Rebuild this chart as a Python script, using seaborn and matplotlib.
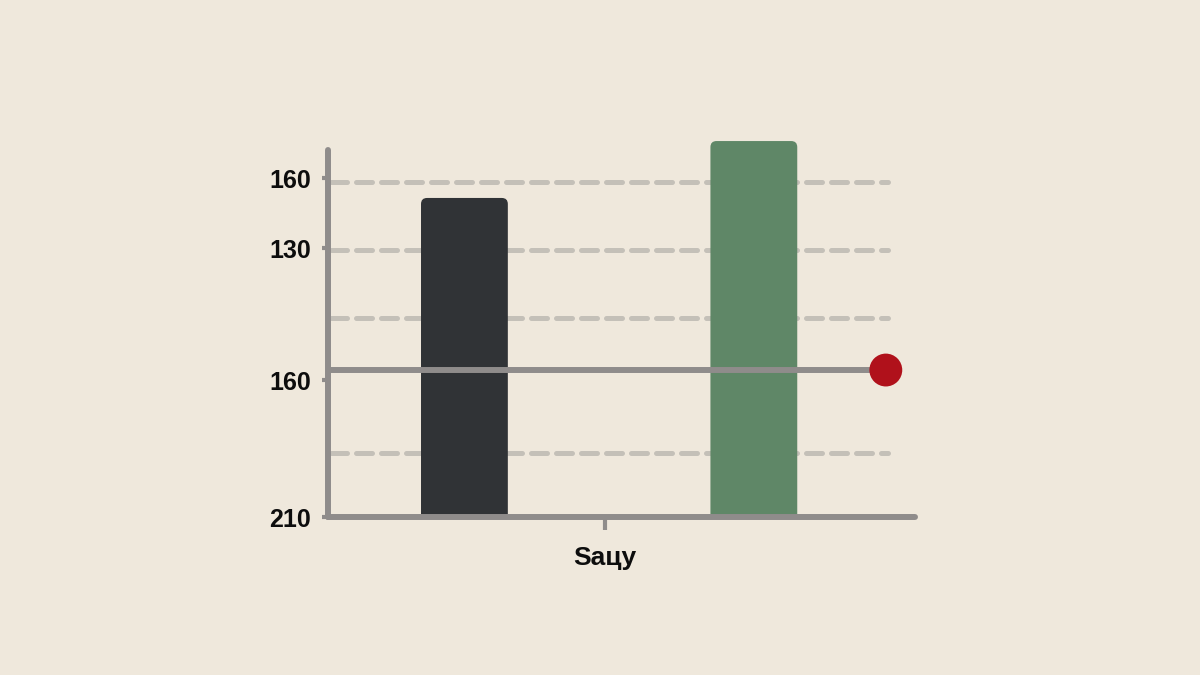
import numpy as np
import pandas as pd
import seaborn as sns
import matplotlib.pyplot as plt
from matplotlib.patches import FancyBboxPatch, Rectangle

# values (y unit = one dashed grid step)
categories = ["left", "right"]
values = [4.71, 5.55]
bar_colors = ["#303336", "#5f8767"]
grid_levels = [0.945, 2.94, 3.94, 4.945]
ytick_pos = [0, 2.02, 3.97, 5.0]
ytick_labels = ["210", "160", "130", "160"]
xtick_pos = 0.486
xtick_label = "Saцy"
ref_value = 2.17
ref_end = 1.456

bg = "#efe8dc"
gray = "#8f8c8b"

sns.set_theme(style="white")
plt.rcParams["font.family"] = ["Liberation Sans", "DejaVu Sans"]

fig = plt.figure(figsize=(12, 6.75), dpi=100, facecolor=bg)
ax = fig.add_axes([0.2733, 0.234, 0.489, 0.5437])
ax.set_facecolor(bg)

df = pd.DataFrame({"cat": categories, "val": values})
sns.barplot(data=df, x="cat", y="val", hue="cat", palette=bar_colors,
            width=0.3, legend=False, ax=ax, zorder=2, saturation=1)

ax.set_xlim(-0.4715, 1.556)
ax.set_ylim(0, 5.417)

# swap the square bars for rounded ones (clipped at the baseline only)
clip = Rectangle((0, 0), 1, 2, transform=ax.transAxes, visible=False)
ax.add_patch(clip)
for p in list(ax.patches):
    if p is clip:
        continue
    x0, w, h = p.get_x(), p.get_width(), p.get_height()
    fc = p.get_facecolor()
    p.remove()
    rb = FancyBboxPatch((x0, -0.2), w, h + 0.2,
                        boxstyle="round,pad=0,rounding_size=0.021",
                        mutation_aspect=4.27, fc=fc, ec="none", zorder=2)
    ax.add_patch(rb)
    rb.set_clip_path(clip)

# dashed grid lines
for g in grid_levels:
    ax.plot([-0.46, 1.465], [g, g], color="#c4c0b8", lw=3.6,
            dashes=(3.2, 1.8), dash_capstyle="round", zorder=1)

# solid reference line with red dot
ax.plot([-0.4715, ref_end], [ref_value, ref_value], color=gray, lw=4.3,
        solid_capstyle="butt", zorder=3)
ax.scatter([ref_end], [ref_value], s=560, color="#b0111b", zorder=4,
           edgecolor="none", clip_on=False)

for side in ["top", "right"]:
    ax.spines[side].set_visible(False)
for side in ["left", "bottom"]:
    ax.spines[side].set_color(gray)
    ax.spines[side].set_linewidth(4.3)
    ax.spines[side].set_capstyle("round")
    ax.spines[side].set_zorder(5)

ax.set_yticks(ytick_pos)
ax.set_yticklabels(ytick_labels, fontsize=18, fontweight="bold", color="#0d0d0d")
ax.set_xticks([xtick_pos])
ax.set_xticklabels([xtick_label], fontsize=19, fontweight="bold", color="#0d0d0d")
ax.tick_params(axis="y", length=4, width=3, color=gray, pad=8, left=True)
ax.tick_params(axis="x", length=9, width=3, color=gray, pad=12, bottom=True)
ax.set_xlabel("")
ax.set_ylabel("")

fig.savefig("out.png", dpi=100, facecolor=bg)
